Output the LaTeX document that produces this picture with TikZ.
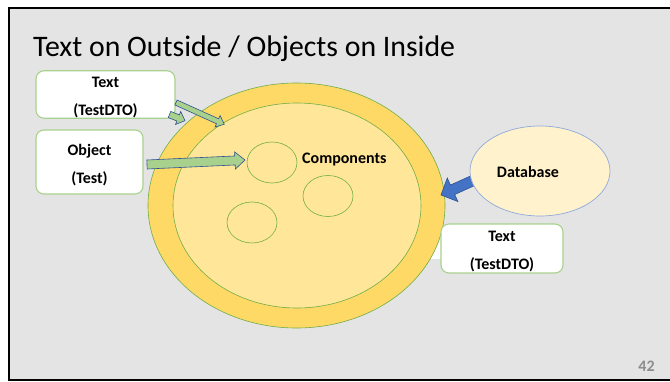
\documentclass[tikz,border=0pt]{standalone}
\usepackage{fontspec}
\setmainfont{Carlito}
\usetikzlibrary{calc,shapes.geometric}

\definecolor{slidegray}{HTML}{E4E4E4}
\definecolor{ringyellow}{HTML}{FFD966}
\definecolor{coreyellow}{HTML}{FFE699}
\definecolor{leafgreen}{HTML}{70AD47}
\definecolor{boxgreen}{HTML}{A9D18E}
\definecolor{arrowgreen}{HTML}{A9D18E}
\definecolor{navyline}{HTML}{2F528F}
\definecolor{dbfill}{HTML}{FFF2CC}
\definecolor{dbline}{HTML}{8FAADC}
\definecolor{dbarrow}{HTML}{4472C4}
\definecolor{pagegray}{HTML}{8C8C8C}

% block arrow: #1 name, #2 style, #3 tail, #4 tip,
% #5 shaft half width, #6 head half width, #7 head length
\newcommand\blockarrow[7]{%
  \coordinate (#1-base) at ($(#4)!#7!(#3)$);
  \draw[#2] ($(#3)!#5!90:(#4)$) -- ($(#1-base)!#5!90:(#4)$)
    -- ($(#1-base)!#6!90:(#4)$) -- (#4)
    -- ($(#1-base)!#6!-90:(#4)$) -- ($(#1-base)!#5!-90:(#4)$)
    -- ($(#3)!#5!-90:(#4)$) -- cycle;
}
% strut that lowers two-line box text a little
\newcommand\boxstrut{\rule{0pt}{17pt}}

\tikzset{
  txtbox/.style={draw=boxgreen, line width=1.1pt, fill=white, rounded corners=8pt,
    inner sep=0pt, align=center, font=\fontsize{16}{28}\selectfont\bfseries},
  ring/.style={ellipse, draw=leafgreen, line width=0.6pt, inner sep=0pt},
  part/.style={ellipse, draw=leafgreen, line width=0.6pt, inner sep=0pt,
    minimum width=50pt, minimum height=41pt},
  greenarrow/.style={fill=arrowgreen, draw=navyline, line width=0.6pt, line join=miter},
  bluearrow/.style={fill=dbarrow, draw=navyline, line width=0.6pt, line join=miter},
  label/.style={font=\fontsize{16}{19}\selectfont\bfseries, inner sep=0pt},
}

\begin{document}
\begin{tikzpicture}[x=1pt, y=-1pt]
\useasboundingbox (0,0) rectangle (670,381);
\fill[white] (0,0) rectangle (670,381);

% slide background and frame
\fill[slidegray] (9,8) rectangle (670,380);
\draw[black, line width=1.6pt] (8.5,8) -- (670,8);
\draw[black, line width=2.6pt] (9,7.2) -- (9,381);
\draw[black, line width=1.8pt] (8.5,380) -- (670,380);

% title
\node[anchor=base west, inner sep=0pt, font=\fontsize{29.8}{34}\selectfont] (title)
  at (33,56) {Text on Outside / Objects on Inside};

% white backing beside the lower text box
\fill[white] (431,234) rectangle (445,259);

% component rings
\node[ring, fill=ringyellow, minimum width=297pt, minimum height=245pt] (outer) at (296.5,205.5) {};
\node[ring, fill=coreyellow, minimum width=248pt, minimum height=205pt] (inner) at (297,205.5) {};
\node[part] (c1) at (272,162.5) {};
\node[part] (c2) at (328,196) {};
\node[part] (c3) at (252,222.5) {};
\node[label, anchor=west] (comp) at (302,160) {Components};

% lower text box
\node[txtbox, minimum width=122pt, minimum height=49pt] (dto2) at (502,248.5) {\boxstrut Text\\(TestDTO)};

% database and its arrow
\coordinate (dbtail) at (482,176.5);
\coordinate (dbtip) at (441,195);
\blockarrow{dba}{bluearrow}{dbtail}{dbtip}{5.2pt}{12.9pt}{12.7pt}
\node[ellipse, draw=dbline, fill=dbfill, line width=0.7pt, inner sep=0pt,
  minimum width=140pt, minimum height=90pt] (db) at (540,171) {};
\node[label] (dblabel) at (528,172) {Database};

% upper text boxes
\node[txtbox, minimum width=139pt, minimum height=47pt] (dto1) at (105.5,94.5) {\boxstrut Text\\(TestDTO)};
\node[txtbox, minimum width=107pt, minimum height=64pt] (obj) at (89.5,162) {\boxstrut Object\\(Test)};

% green arrows into the rings
\coordinate (a1tail) at (176,102.5);
\coordinate (a1tip) at (224.3,124.3);
\blockarrow{a1}{greenarrow}{a1tail}{a1tip}{2.7pt}{6.3pt}{7.4pt}
\coordinate (a2tail) at (169.5,114.5);
\coordinate (a2tip) at (185,120.7);
\blockarrow{a2}{greenarrow}{a2tail}{a2tip}{3.3pt}{7pt}{7.4pt}
\coordinate (a3tail) at (147,164.5);
\coordinate (a3tip) at (245,160);
\blockarrow{a3}{greenarrow}{a3tail}{a3tip}{4.5pt}{8.6pt}{10pt}

% page number
\node[font=\fontsize{16}{19}\selectfont\bfseries, text=pagegray, inner sep=0pt] (page) at (646.5,366) {42};
\end{tikzpicture}
\end{document}
